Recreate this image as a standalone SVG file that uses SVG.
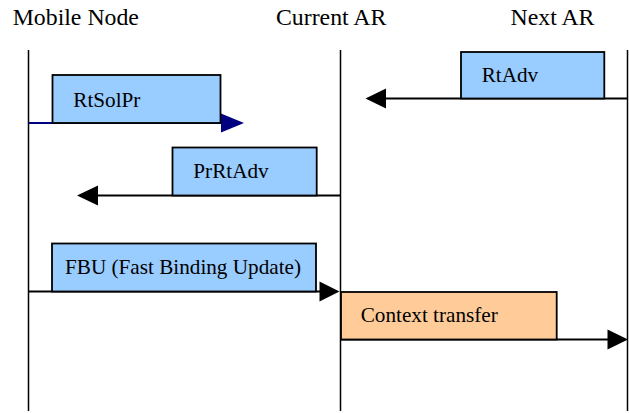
<svg xmlns="http://www.w3.org/2000/svg" width="629" height="413" viewBox="0 0 629 413">
  <style>
    .hdr { font-family: "Liberation Serif", "Times New Roman", serif; font-size: 23.8px; fill: #000; }
    .lbl { font-family: "Liberation Serif", "Times New Roman", serif; font-size: 21.2px; fill: #000; }
    .life { stroke: #000; stroke-width: 1.5; fill: none; }
    .msg { fill: #99CCFF; stroke: #000; stroke-width: 1.8; }
    .ctx { fill: #FFCC99; stroke: #000; stroke-width: 1.8; }
    .wire { stroke: #000; stroke-width: 1.8; fill: none; }
    .head { fill: #000; }
  </style>

  <!-- lifelines with their headings -->
  <g id="mobile-node">
    <text class="hdr" x="12.7" y="25">Mobile Node</text>
    <line class="life" x1="28.5" y1="50" x2="28.5" y2="411"/>
  </g>
  <g id="current-ar">
    <text class="hdr" x="276" y="25">Current AR</text>
    <line class="life" x1="340.5" y1="50" x2="340.5" y2="411"/>
  </g>
  <g id="next-ar">
    <text class="hdr" x="510.5" y="25">Next AR</text>
    <line class="life" x1="627.5" y1="50" x2="627.5" y2="411"/>
  </g>

  <!-- message arrows -->
  <g id="connectors">
    <line x1="28.5" y1="123" x2="224" y2="123" stroke="#000080" stroke-width="1.8"/>
    <polygon points="221,113.5 244,123 221,132.5" fill="#000080"/>

    <line class="wire" x1="627.5" y1="98.5" x2="384" y2="98.5"/>
    <polygon class="head" points="386,88.5 365.5,98.5 386,108.5"/>

    <line class="wire" x1="340.5" y1="195.5" x2="96" y2="195.5"/>
    <polygon class="head" points="98,185.5 77,195.5 98,205.5"/>

    <line class="wire" x1="28.5" y1="291.5" x2="322" y2="291.5"/>
    <polygon class="head" points="319.5,281.5 339.5,291.5 319.5,301.5"/>

    <line class="wire" x1="340.5" y1="339.5" x2="610" y2="339.5"/>
    <polygon class="head" points="607.5,329.5 628,339.5 607.5,349.5"/>
  </g>

  <!-- message boxes -->
  <g id="rtsolpr">
    <rect class="msg" x="52.5" y="75" width="168" height="48"/>
    <text class="lbl" x="73.3" y="106.7">RtSolPr</text>
  </g>
  <g id="rtadv">
    <rect class="msg" x="461" y="52" width="143.3" height="46.5"/>
    <text class="lbl" x="481.7" y="81.7">RtAdv</text>
  </g>
  <g id="prrtadv">
    <rect class="msg" x="172.5" y="147.5" width="144.2" height="48"/>
    <text class="lbl" x="193.3" y="177.7">PrRtAdv</text>
  </g>
  <g id="fbu">
    <rect class="msg" x="52" y="243.5" width="264" height="48"/>
    <text class="lbl" x="65" y="274.3">FBU (Fast Binding Update)</text>
  </g>
  <g id="context-transfer">
    <rect class="ctx" x="341" y="292" width="215.7" height="47.5"/>
    <text class="lbl" x="360.7" y="321.7">Context transfer</text>
  </g>
</svg>
